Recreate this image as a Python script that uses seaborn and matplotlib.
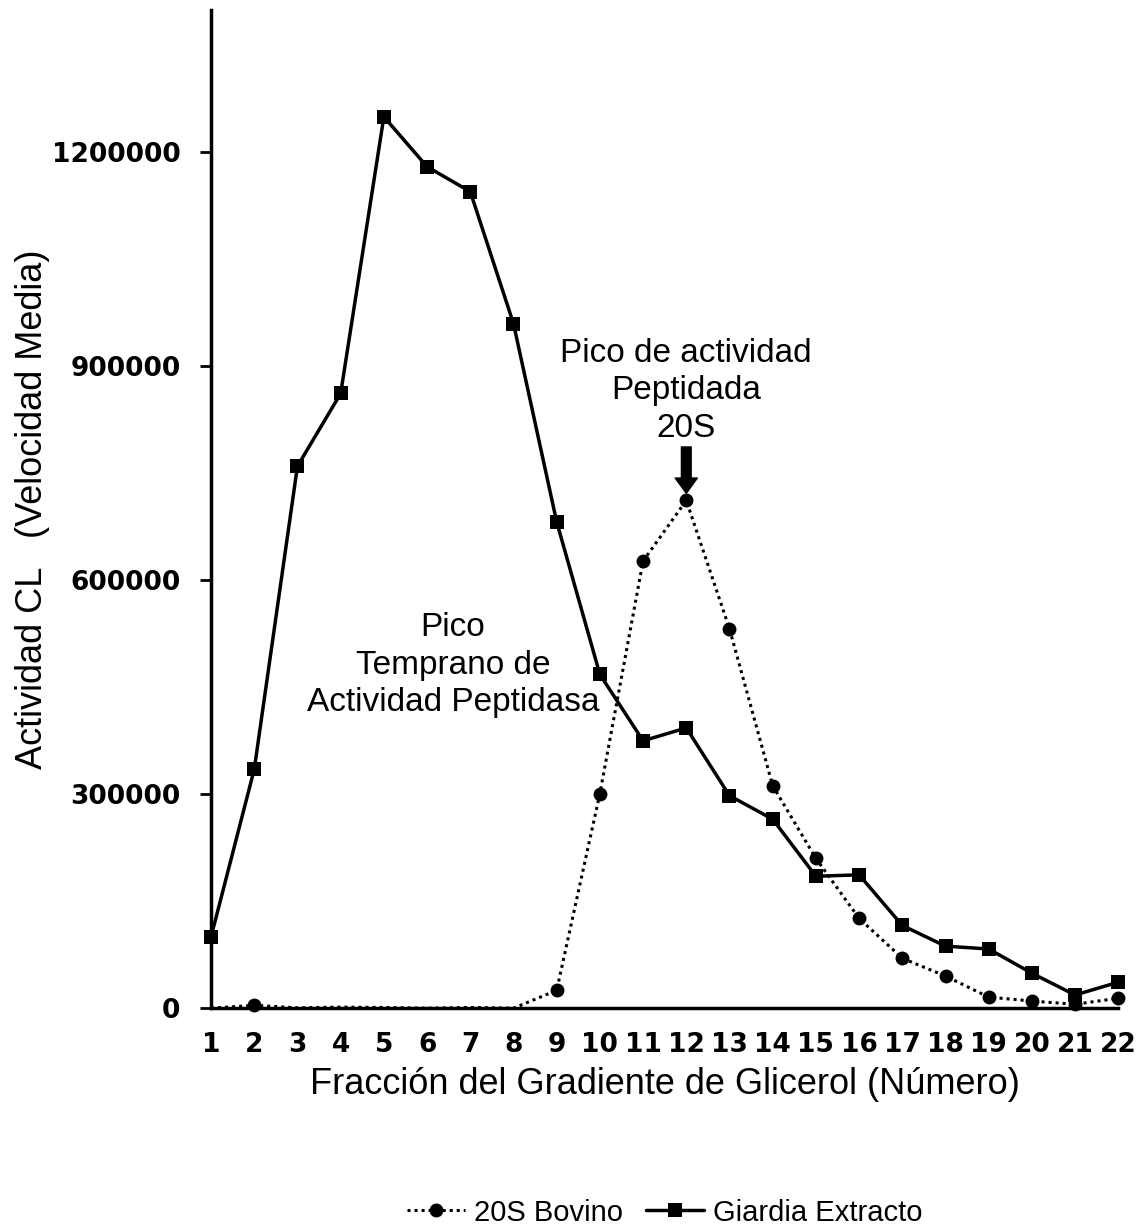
import numpy as np
import pandas as pd
import matplotlib
matplotlib.use("Agg")
import matplotlib.pyplot as plt
import seaborn as sns

# Fractions of the glycerol gradient
fracciones = list(range(1, 23))

# Mean CL activity per fraction
bovino_20s = [0, 4000, 500, 1500, 1000, 0, 1000, 0, 25000, 301000, 627000, 712000,
              532000, 312000, 210000, 126000, 70000, 45000, 15500, 10000, 5500, 14000]
giardia_extracto = [100000, 335000, 760000, 862000, 1250000, 1180000, 1145000, 960000,
                    682000, 468000, 375000, 393000, 298000, 265000, 185000, 187000,
                    116000, 87000, 83000, 49000, 18500, 36500]

y_ticks = [0, 300000, 600000, 900000, 1200000]

df = pd.DataFrame({"fraccion": fracciones,
                   "bovino": bovino_20s,
                   "giardia": giardia_extracto})

sns.set_style("white")
plt.rcParams["font.family"] = ["Liberation Sans", "DejaVu Sans"]
plt.rcParams["text.color"] = "black"
plt.rcParams["axes.labelcolor"] = "black"
plt.rcParams["xtick.color"] = "black"
plt.rcParams["ytick.color"] = "black"

fig = plt.figure(figsize=(11.47, 12.28), dpi=100)
ax = fig.add_axes([0.184, 0.179, 0.791, 0.813])

sns.lineplot(data=df, x="fraccion", y="bovino", ax=ax, color="black",
             linestyle=(0, (1, 1.3)), linewidth=2.2, marker="o", markersize=10,
             markeredgewidth=0, markevery=[1] + list(range(8, 22)),
             label="20S Bovino", clip_on=False)
sns.lineplot(data=df, x="fraccion", y="giardia", ax=ax, color="black",
             linestyle="-", linewidth=2.5, marker="s", markersize=9.5,
             markeredgewidth=0, label="Giardia Extracto", clip_on=False)

ax.set_xlim(1, 22)
ax.set_ylim(0, 1400000)
ax.set_xticks(fracciones)
ax.set_xticklabels([str(f) for f in fracciones])
ax.set_yticks(y_ticks)
ax.set_yticklabels([str(v) for v in y_ticks])

for lbl in ax.get_xticklabels() + ax.get_yticklabels():
    lbl.set_fontsize(19)
    lbl.set_fontweight("bold")
    lbl.set_family("DejaVu Sans")

ax.tick_params(axis="y", which="both", left=True, length=8, width=2, direction="out", pad=14)
ax.tick_params(axis="x", which="both", bottom=False, pad=14)

for side in ["top", "right"]:
    ax.spines[side].set_visible(False)
for side in ["left", "bottom"]:
    ax.spines[side].set_linewidth(2.5)
    ax.spines[side].set_color("black")

ax.set_xlabel("Fracción del Gradiente de Glicerol (Número)", fontsize=26,
              labelpad=6)
ax.set_ylabel("Actividad CL   (Velocidad Media)", fontsize=26, labelpad=1)

ax.text(12, 940000, "Pico de actividad\nPeptidada\n20S", ha="center", va="top",
        fontsize=24, linespacing=1.27)
ax.annotate("", xy=(12, 722000), xytext=(12, 787000),
            arrowprops=dict(arrowstyle="simple,head_width=1.6,head_length=1.1,tail_width=0.7",
                            color="black", shrinkA=0, shrinkB=0))
ax.text(6.6, 555000, "Pico\nTemprano de\nActividad Peptidasa", ha="center",
        va="top", fontsize=24, linespacing=1.27)

leg = ax.legend(loc="lower center", bbox_to_anchor=(0.5, -0.245), ncol=2,
                frameon=False, handlelength=2.0, columnspacing=0.8,
                handletextpad=0.3, prop={"family": ["Liberation Sans", "DejaVu Sans"], "size": 21})

fig.savefig("out.png", dpi=100)
